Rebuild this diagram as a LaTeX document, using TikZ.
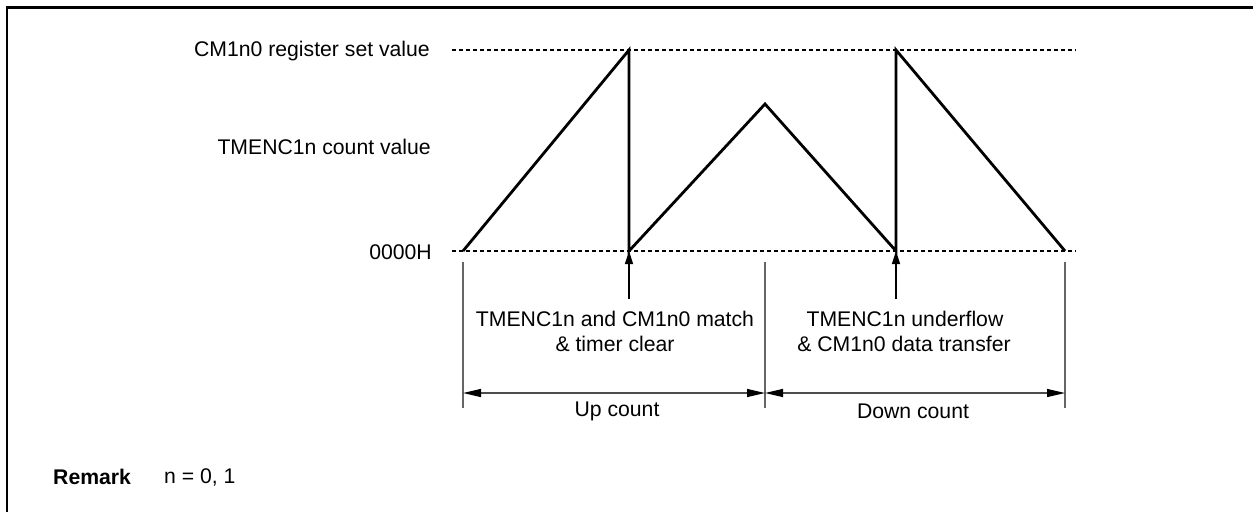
\documentclass[tikz,border=0pt]{standalone}
\usepackage{fontspec}
\setmainfont{Liberation Sans}
\usetikzlibrary{arrows.meta}
\begin{document}
\begin{tikzpicture}[x=1pt,y=-1pt,
  lbl/.style={inner sep=0pt, font=\fontsize{21.2}{25}\selectfont},
  wave/.style={line width=2.8pt, line join=miter},
  dashline/.style={line width=1.2pt, dash pattern=on 4pt off 3pt},
  guide/.style={line width=1.1pt, draw=black!60},
  span/.style={line width=1.3pt, draw=black!70, {Triangle[length=18pt,width=8pt,black]}-{Triangle[length=18pt,width=8pt,black]}},
  evt/.style={line width=1.3pt, -{Triangle[length=13pt,width=8pt]}}]
\useasboundingbox (0,0) rectangle (1253,512);
% frame
\draw[line width=2.2pt] (7,512) -- (7,7.5) -- (1253,7.5);
% level labels
\node[lbl, anchor=east] (lset) at (430,51) {CM1n0 register set value};
\node[lbl, anchor=east] (lcnt) at (431,147) {TMENC1n count value};
\node[lbl, anchor=east] (lzero) at (432,252) {0000H};
% dashed levels
\coordinate (ts) at (452,50); \coordinate (te) at (1076,50);
\coordinate (bs) at (452,251); \coordinate (be) at (1076,251);
\draw[dashline] (ts) -- (te);
\draw[dashline] (bs) -- (be);
% waveform
\coordinate (w0) at (463,251);
\coordinate (w1) at (629,50);
\coordinate (w2) at (629,251);
\coordinate (w3) at (765,104);
\coordinate (w4) at (896,251);
\coordinate (w5) at (896,50);
\coordinate (w6) at (1065,251);
\draw[wave] (w0) -- (w1) -- (w2) -- (w3) -- (w4) -- (w5) -- (w6);
% event arrows
\coordinate (e1) at (629,299);
\coordinate (e2) at (896,299);
\draw[evt] (e1) -- (w2);
\draw[evt] (e2) -- (w4);
% guide lines
\coordinate (g1t) at (463,262); \coordinate (g1b) at (463,408);
\coordinate (g2t) at (765,262); \coordinate (g2b) at (765,408);
\coordinate (g3t) at (1065,262); \coordinate (g3b) at (1065,408);
\draw[guide] (g1t) -- (g1b);
\draw[guide] (g2t) -- (g2b);
\draw[guide] (g3t) -- (g3b);
% spans
\coordinate (s1) at (463,393); \coordinate (s2) at (765,393); \coordinate (s3) at (1065,393);
\draw[span] (s1) -- (s2);
\draw[span] (s2) -- (s3);
% event labels
\node[lbl, anchor=base] (t1a) at (615,326) {TMENC1n and CM1n0 match};
\node[lbl, anchor=base] (t1b) at (615,351) {\& timer clear};
\node[lbl, anchor=base] (t2a) at (905,326) {TMENC1n underflow};
\node[lbl, anchor=base] (t2b) at (904,351) {\& CM1n0 data transfer};
\node[lbl] (up) at (617,411) {Up count};
\node[lbl] (down) at (913,411) {Down count};
% remark
\node[lbl, anchor=west, font=\fontsize{21.2}{25}\selectfont\bfseries] (rem) at (53,477) {Remark};
\node[lbl, anchor=west] (remv) at (164,477) {n = 0, 1};
\end{tikzpicture}
\end{document}
